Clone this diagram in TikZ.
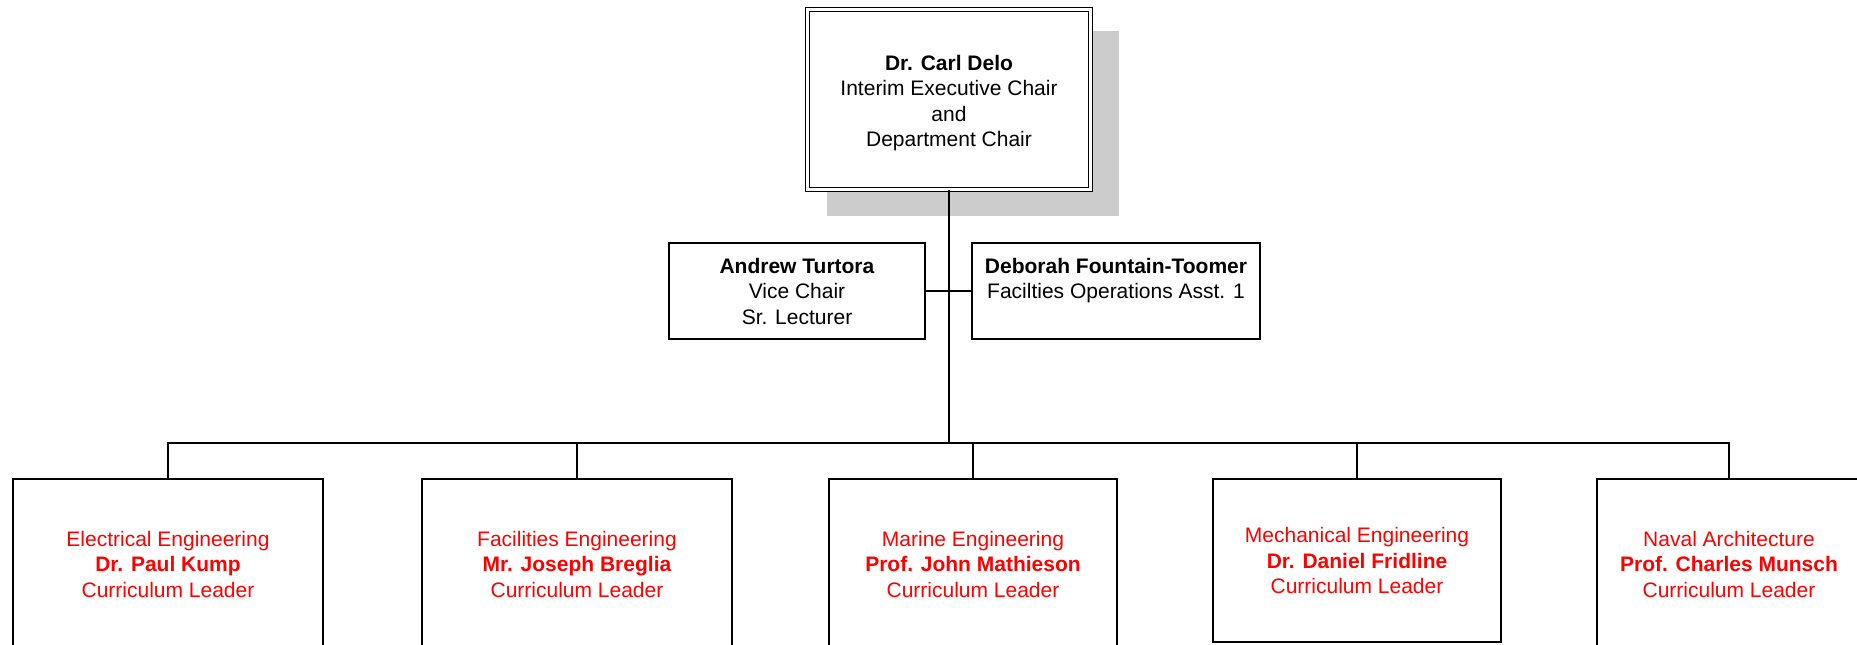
\documentclass[tikz,border=0pt]{standalone}
\usepackage{fontspec}
\setmainfont{Liberation Sans}
\usetikzlibrary{shadows}

\begin{document}
\begin{tikzpicture}[x=0.5pt, y=-0.5pt,
  every node/.style={font=\fontsize{10.5}{12.75}\selectfont, align=center, inner sep=0pt},
  boss/.style={draw, line width=0.7pt, double, double distance=1.3pt, fill=white,
    minimum width=141.75pt, minimum height=89.75pt,
    drop shadow={shadow xshift=11.75pt, shadow yshift=-11.5pt, shadow scale=1.03, fill=black!20, opacity=1}},
  staff/.style={draw, line width=0.8pt, minimum height=48pt},
  lead/.style={draw, line width=0.8pt, text=red, minimum height=85pt},
  link/.style={line width=0.8pt}]
  \useasboundingbox (0,0) rectangle (1857,644);
  \clip (0,0) rectangle (1857,644);
  \pgfmathsetmacro{\busy}{443}

  % chair
  \node[boss] (chair) at (949,99.5) {\rule{0pt}{11pt}\textbf{Dr. Carl Delo}\\Interim Executive Chair\\and\\Department Chair};

  % staff
  \node[staff, minimum width=128pt] (vice) at (797,291) {\textbf{Andrew Turtora}\\Vice Chair\\Sr. Lecturer};
  \node[staff, minimum width=144pt] (ops) at (1116,291) {\textbf{Deborah Fountain-Toomer}\\Facilties Operations Asst. 1\\\mbox{}};

  % curriculum leaders
  \node[lead, minimum width=155pt] (elec) at (168,564) {Electrical Engineering\\\textbf{Dr. Paul Kump}\\Curriculum Leader};
  \node[lead, minimum width=155pt] (fac) at (577,564) {Facilities Engineering\\\textbf{Mr. Joseph Breglia}\\Curriculum Leader};
  \node[lead, minimum width=144pt] (marine) at (973,564) {Marine Engineering\\\textbf{Prof. John Mathieson}\\Curriculum Leader};
  \node[lead, minimum width=144pt, minimum height=81.5pt] (mech) at (1357,560.5) {Mechanical Engineering\\\textbf{Dr. Daniel Fridline}\\Curriculum Leader};
  \node[lead, minimum width=132pt] (naval) at (1729,564) {Naval Architecture\\\textbf{Prof. Charles Munsch}\\Curriculum Leader};

  % connectors
  \coordinate (bus) at (949,\busy);
  \draw[link] (chair) -- (bus);
  \draw[link] (vice) -- (ops);
  \draw[link] (elec.north) |- (naval.north |- bus) -- (naval.north);
  \foreach \n in {fac,marine,mech}
    \draw[link] (\n.north) -- (\n.north |- bus);

\end{tikzpicture}
\end{document}
